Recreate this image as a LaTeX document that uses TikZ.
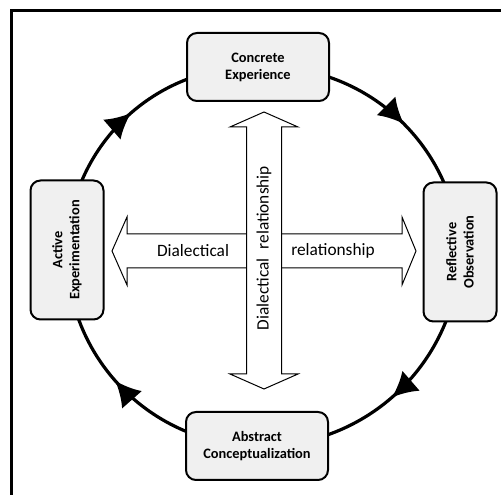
\documentclass[tikz,border=0pt]{standalone}
\usepackage{fontspec}
\setmainfont{Carlito}
\usetikzlibrary{arrows.meta, decorations.markings, backgrounds}

\tikzset{
  stagebox/.style={draw=black, line width=1.5pt, fill=black!6, rounded corners=7.5pt,
                   align=center, inner sep=0pt,
                   font=\bfseries\fontsize{10.8}{12.8}\selectfont},
  cyclearc/.style={line width=2.4pt, bend left=45, postaction={decorate},
                   decoration={markings, mark=at position 0.53 with
                     {\arrow{Latex[length=19pt,width=20pt]}}}},
  dialarrow/.style={draw=black, line width=0.75pt, fill=white, line join=miter},
  dialtext/.style={font=\fontsize{13}{15}\selectfont}
}

\begin{document}
\begin{tikzpicture}[x=0.75pt, y=0.75pt]
    \useasboundingbox (0,0) rectangle (501,495);

    % outer frame
    \draw[line width=2.25pt] (11.5,0) -- (11.5,484) -- (501,484);

    % the four stages
    \node[stagebox, minimum width=106.5pt, minimum height=51pt] (ce) at (258,428) {Concrete\\Experience};
    \node[stagebox, rotate=90, minimum width=104.25pt, minimum height=54.75pt] (ro) at (460,243) {Reflective\\Observation};
    \node[stagebox, minimum width=106.5pt, minimum height=51pt] (ac) at (257,49) {Abstract\\Conceptualization};
    \node[stagebox, rotate=90, minimum width=104.25pt, minimum height=54.75pt] (ae) at (67,245) {Active\\Experimentation};

    % cycle, clockwise
    \begin{scope}[on background layer]
      \draw[cyclearc] (ce.center) to (ro.center);
      \draw[cyclearc] (ro.center) to (ac.center);
      \draw[cyclearc] (ac.center) to (ae.center);
      \draw[cyclearc] (ae.center) to (ce.center);
    \end{scope}

    % horizontal double arrow
    \draw[dialarrow] (112,244) -- (127,278) -- (127,261) -- (402,261) -- (402,278) -- (416,244)
      -- (402,210) -- (402,227) -- (127,227) -- (127,210) -- cycle;
    \node[dialtext] (dialleft) at (193,244) {Dialectical};
    \node[dialtext] (dialright) at (333,244) {relationship};

    % vertical double arrow
    \draw[dialarrow] (264,383) -- (298,368) -- (281.5,368) -- (281.5,121) -- (298,121) -- (264,106)
      -- (230,121) -- (246.5,121) -- (246.5,368) -- (230,368) -- cycle;
    \node[dialtext, rotate=90] (dialvert) at (264,247) {Dialectical\hspace{0.5em}relationship};
\end{tikzpicture}
\end{document}
